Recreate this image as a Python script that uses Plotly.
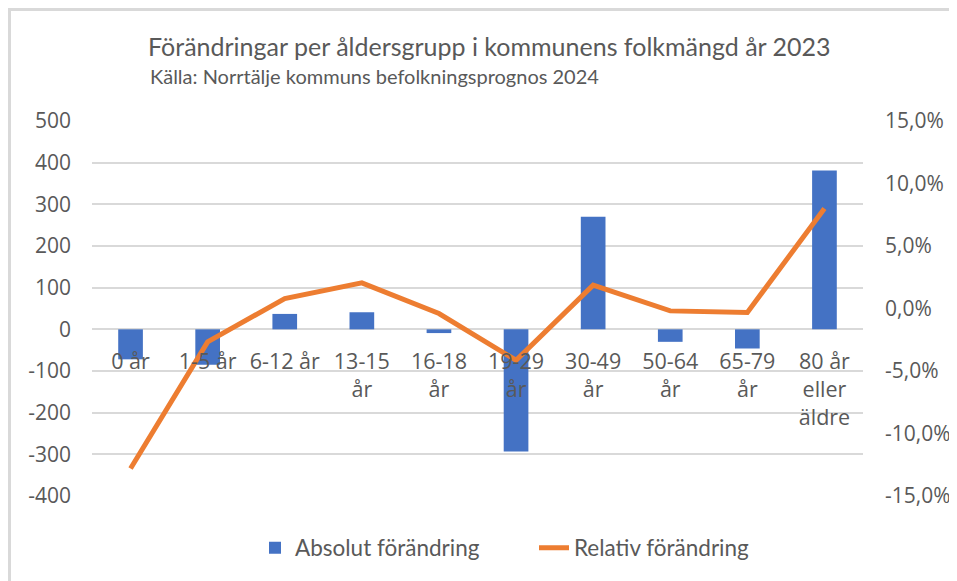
import plotly.graph_objects as go

categories = ["0 år", "1-5 år", "6-12 år", "13-15<br>år", "16-18<br>år", "19-29<br>år",
              "30-49<br>år", "50-64<br>år", "65-79<br>år", "80 år<br>eller<br>äldre"]
absolut = [-72, -85, 37, 41, -9, -293, 270, -30, -46, 381]
relativ = [-0.128, -0.0267, 0.008, 0.0205, -0.004, -0.0414, 0.0187, -0.0019, -0.0032, 0.080]

left_ticks = [500, 400, 300, 200, 100, 0, -100, -200, -300, -400]
left_labels = ["500", "400", "300", "200", "100", "0", "-100", "-200", "-300", "-400"]
right_ticks = [0.15, 0.10, 0.05, 0.0, -0.05, -0.10, -0.15]
right_labels = ["15,0%", "10,0%", "5,0%", "0,0%", "-5,0%", "-10,0%", "-15,0%"]

title_text = "Förändringar per åldersgrupp i kommunens folkmängd år 2023"
subtitle_text = "Källa: Norrtälje kommuns befolkningsprognos 2024"

GREY = "#595959"
FONT = "Open Sans"
NARROW = "Lato, sans-serif"

# page has an 8px body margin; work in page coordinates and convert
OFF = 8
W, H = 957 - OFF, 581 - OFF
L, R = 92 - OFF, 957 - 863
T, B = 121 - OFF, 581 - 496
pw, ph = W - L - R, H - T - B


def px_x(x):  # page px -> paper
    return (x - OFF - L) / pw


def px_y(y):
    return (H - B - (y - OFF)) / ph


fig = go.Figure()
fig.add_trace(go.Bar(x=categories, y=absolut, name="Absolut förändring",
                     marker=dict(color="#4472C4", line=dict(width=0)), width=0.32,
                     yaxis="y"))
fig.add_trace(go.Scatter(x=categories, y=relativ, name="Relativ förändring", mode="lines",
                         line=dict(color="#ED7D31", width=5), yaxis="y2"))

fig.update_layout(
    width=W, height=H,
    margin=dict(l=L, r=R, t=T, b=B, autoexpand=False),
    paper_bgcolor="white", plot_bgcolor="white",
    font=dict(family=FONT, color=GREY, size=20),
    showlegend=True,
    legend=dict(orientation="h", x=px_x(255), xanchor="left", y=px_y(548), yanchor="middle",
                font=dict(family=NARROW, size=22.5, color=GREY),
                entrywidth=234, bgcolor="rgba(0,0,0,0)"),
    title=dict(text=title_text, x=(148 - OFF) / W, xanchor="left", y=1 - (47 - OFF) / H,
               yanchor="middle", font=dict(family=NARROW, size=25, color=GREY)),
    annotations=[dict(text=subtitle_text, xref="paper", yref="paper", x=px_x(148), y=px_y(76),
                      xanchor="left", yanchor="middle", showarrow=False,
                      font=dict(family=NARROW, size=20, color=GREY))],
    xaxis=dict(type="category", anchor="free", position=4 / 9, showgrid=False, showline=False,
               zeroline=False, ticks="", ticklabelstandoff=17, automargin=False,
               tickfont=dict(size=21.5, color=GREY, family=FONT)),
    yaxis=dict(range=[-400, 500], tickvals=left_ticks, ticktext=left_labels, showgrid=True,
               gridcolor="#D9D9D9", gridwidth=1.5, zeroline=False, showline=False, ticks="",
               ticklabelstandoff=20, automargin=False,
               tickfont=dict(size=21, color=GREY, family=FONT)),
    yaxis2=dict(range=[-0.15, 0.15], tickvals=right_ticks, ticktext=right_labels,
                overlaying="y", side="right", showgrid=False, zeroline=False, showline=False,
                ticks="", ticklabelstandoff=21, automargin=False,
                tickfont=dict(size=21, color=GREY, family=FONT)),
    shapes=[
        dict(type="line", xref="paper", yref="paper", x0=px_x(8), x1=px_x(957), y0=px_y(9.5),
             y1=px_y(9.5), line=dict(color="#D9D9D9", width=3)),
        dict(type="line", xref="paper", yref="paper", x0=px_x(9.5), x1=px_x(9.5), y0=px_y(8),
             y1=px_y(581), line=dict(color="#D9D9D9", width=3)),
    ],
)

fig.write_html("out.html")
